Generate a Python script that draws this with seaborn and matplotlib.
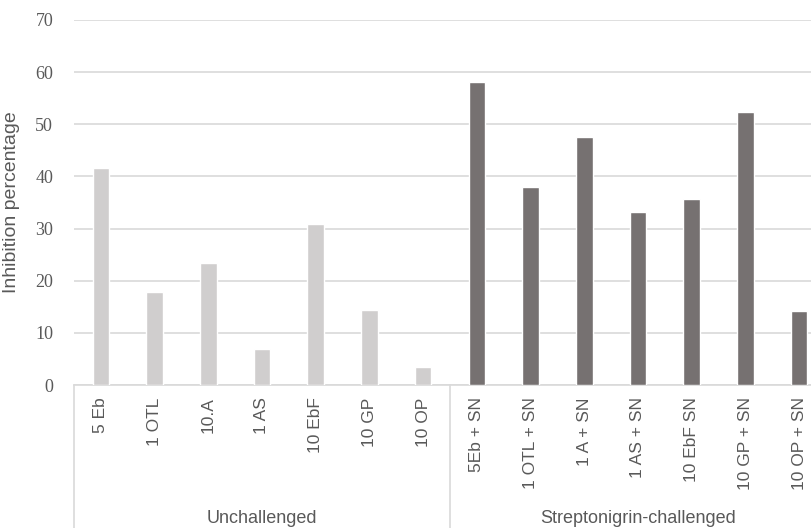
import matplotlib
matplotlib.use("Agg")
import matplotlib.pyplot as plt
import seaborn as sns
import pandas as pd

# Inhibition percentages per treatment
unchallenged_labels = ["5 Eb", "1 OTL", "10.A", "1 AS", "10 EbF", "10 GP", "10 OP"]
unchallenged_values = [41.7, 17.9, 23.4, 6.9, 30.8, 14.4, 3.4]

challenged_labels = ["5Eb + SN", "1 OTL + SN", "1 A + SN", "1 AS + SN",
                     "10 EbF SN", "10 GP + SN", "10 OP + SN"]
challenged_values = [58.1, 37.9, 47.6, 33.2, 35.7, 52.4, 14.2]

group_names = ["Unchallenged", "Streptonigrin-challenged"]
group_colors = ["#D0CECE", "#767171"]

df = pd.DataFrame({
    "treatment": unchallenged_labels + challenged_labels,
    "value": unchallenged_values + challenged_values,
    "group": [group_names[0]] * len(unchallenged_labels)
             + [group_names[1]] * len(challenged_labels),
})

sns.set_theme(style="white")
plt.rcParams["font.family"] = ["Liberation Sans", "DejaVu Sans"]

fig = plt.figure(figsize=(8.12, 5.28), dpi=100)
# axes runs slightly past the right edge of the canvas
ax = fig.add_axes([74 / 812, 143 / 528, 752 / 812, 365 / 528])

sns.barplot(data=df, x="treatment", y="value", hue="group",
            palette=dict(zip(group_names, group_colors)), dodge=False,
            width=0.31, saturation=1, legend=False, ax=ax, zorder=3)

grid_c = "#D9D9D9"
text_c = "#595959"

ax.set_ylim(0, 70)
ax.set_yticks(range(0, 71, 10))
ax.yaxis.grid(True, color=grid_c, linewidth=1.2, zorder=0)
ax.xaxis.grid(False)
ax.set_xlim(-0.5, len(df) - 0.5)

for side in ["top", "right", "left"]:
    ax.spines[side].set_visible(False)
ax.spines["bottom"].set_color(grid_c)
ax.spines["bottom"].set_linewidth(1.2)

ax.tick_params(axis="y", length=0, pad=15, colors=text_c)
for t in ax.get_yticklabels():
    t.set_family(["Liberation Serif", "DejaVu Serif"])
    t.set_fontsize(13)
ax.tick_params(axis="x", length=0, pad=9, colors=text_c, labelsize=12.5)
plt.setp(ax.get_xticklabels(), rotation=90)

ax.set_xlabel("")
ax.set_ylabel("Inhibition percentage", fontsize=14, color=text_c)
ax.yaxis.set_label_coords(-54 / 752, 0.5)

# group separators and group titles below the category labels
n1 = len(unchallenged_labels)
n = len(df)
for xs in [-0.5, n1 - 0.5, n - 0.5]:
    ax.plot([xs, xs], [0, -30], color=grid_c, linewidth=1.2,
            clip_on=False, zorder=1)
trans = ax.get_xaxis_transform()
ax.text((n1 - 1) / 2, -0.365, group_names[0], transform=trans,
        ha="center", va="center", fontsize=13, color=text_c)
ax.text((n1 + n - 1) / 2, -0.365, group_names[1], transform=trans,
        ha="center", va="center", fontsize=13, color=text_c)

fig.savefig("out.png", dpi=100)
